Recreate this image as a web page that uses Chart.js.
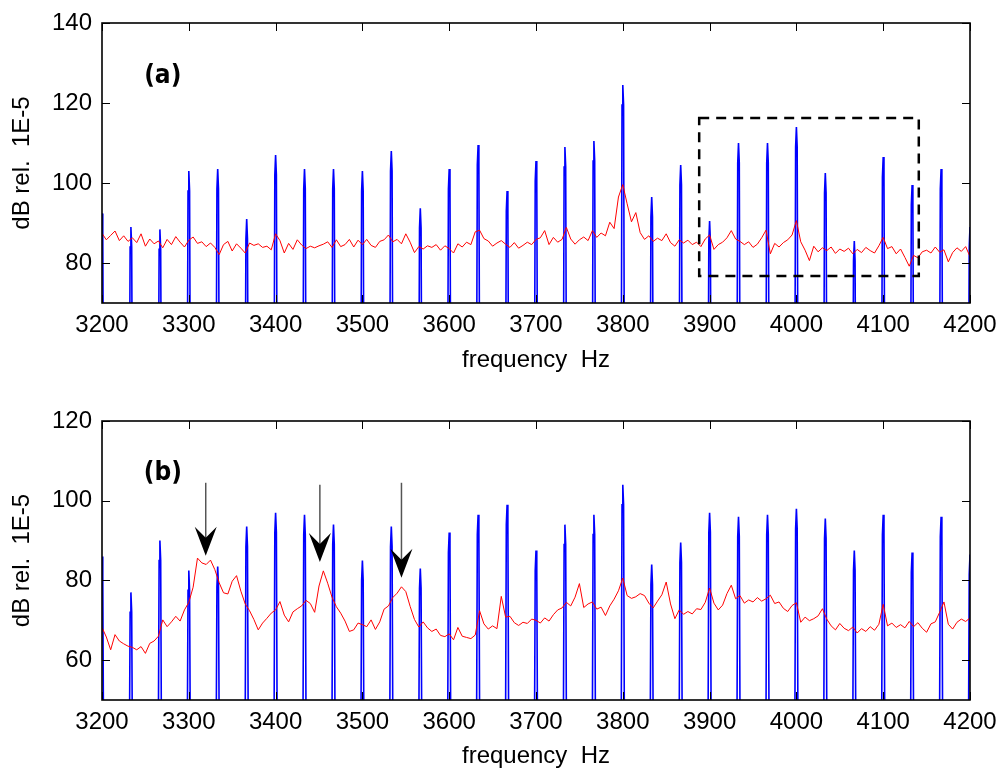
<!DOCTYPE html>
<html>
<head>
<meta charset="utf-8">
<script src="https://cdn.jsdelivr.net/npm/chart.js@4.4.1/dist/chart.umd.min.js"></script>
<style>
  html, body { margin:0; padding:0; background:#fff; }
  #wrap { position:relative; width:999px; height:771px; }
  .pane { position:absolute; left:0; }
</style>
</head>
<body>
<div id="wrap">
  <div class="pane" style="top:0"><canvas id="chart-a" width="999" height="390"></canvas></div>
  <div class="pane" style="top:390px"><canvas id="chart-b" width="999" height="381"></canvas></div>
</div>
<script>
// ── DATOS ──
var freqStart = 3200;
var freqStep = 5; // resolución de la traza roja (Hz)
var xTicks = [3200, 3300, 3400, 3500, 3600, 3700, 3800, 3900, 4000, 4100, 4200];
var yTicksA = [80, 100, 120, 140];
var yTicksB = [60, 80, 100, 120];

// traza roja (a), cada 5 Hz desde 3200
var redA = [
  87.4, 85.8, 86.9, 88.0, 85.6, 86.8, 85.4, 86.3, 85.1, 87.3,
  84.2, 86.0, 84.8, 85.5, 83.8, 85.9, 84.6, 86.6, 85.2, 84.0,
  85.7, 86.5, 84.9, 85.3, 84.1, 85.0, 83.9, 82.1, 84.6, 85.4,
  83.0, 84.8, 83.7, 82.5, 85.0, 84.4, 84.8, 83.9, 84.2, 83.3,
  87.3, 85.6, 82.5, 84.9, 83.4, 85.8, 84.5, 83.6, 84.2, 83.8,
  84.3, 84.7, 85.3, 83.9, 85.8, 84.1, 84.6, 85.9, 84.0, 85.7,
  84.6, 85.9, 84.4, 83.9, 85.4, 85.8, 87.0, 85.3, 85.9, 84.8,
  87.3, 85.2, 82.6, 84.1, 83.5, 84.3, 83.9, 84.6, 83.2, 84.3,
  83.6, 82.5, 84.8, 84.0, 85.2, 84.6, 87.8, 88.2, 86.1, 85.5,
  84.2, 85.0, 85.6, 84.7, 83.9, 85.1, 83.7, 84.4, 85.2, 84.6,
  85.9, 86.3, 88.1, 84.6, 86.4, 85.2, 85.9, 88.9, 86.0, 84.7,
  85.8, 86.5, 85.6, 88.1, 86.4, 87.5, 86.8, 90.2, 88.6, 96.5,
  99.6, 94.8, 90.3, 92.6, 87.6, 85.9, 86.8, 85.4, 86.2, 85.6,
  87.3, 85.1, 84.2, 85.8, 85.0, 85.7, 84.6, 85.2, 84.1, 86.0,
  87.0, 83.4, 84.6, 85.2, 86.3, 88.1, 86.0, 85.4, 84.6, 85.3,
  83.9, 84.7, 86.3, 88.2, 82.3, 84.9, 84.0, 85.1, 85.8, 87.0,
  90.6, 85.3, 83.2, 80.6, 84.2, 82.8, 83.8, 83.1, 84.0, 82.4,
  83.5, 82.9, 83.7, 82.3, 83.4, 82.6, 83.9, 83.1, 82.5, 84.3,
  86.4, 83.6, 84.1, 82.3, 83.5, 81.4, 79.2, 81.9, 81.3, 82.8,
  83.2, 82.5, 84.0, 82.7, 83.3, 80.3, 82.6, 83.8, 82.9, 84.1,
  81.6
];

// traza roja (b)
var redB = [
  68.2, 65.8, 62.6, 66.4, 64.8, 64.1, 63.5, 63.2, 62.6, 63.4,
  61.7, 64.2, 64.8, 66.0, 70.1, 68.4, 69.6, 71.0, 69.8, 72.6,
  74.5, 78.3, 85.6, 84.4, 84.0, 85.1, 82.7, 79.4, 76.9, 76.6,
  79.8, 81.2, 77.3, 74.1, 72.4, 70.2, 67.6, 69.3, 70.5, 71.8,
  72.6, 74.7, 71.3, 69.6, 72.1, 72.9, 73.6, 75.0, 74.2, 72.0,
  78.6, 82.4, 79.3, 75.8, 73.4, 71.8, 69.8, 67.2, 67.6, 69.3,
  68.9, 68.4, 70.1, 67.7, 69.6, 72.8, 73.6, 75.7, 76.8, 78.4,
  77.2, 73.5, 70.2, 68.3, 69.6, 68.1, 67.2, 67.8, 66.2, 65.9,
  66.6, 65.1, 68.2, 66.0, 65.7, 65.4, 66.3, 72.4, 69.1, 67.8,
  68.6, 67.9, 76.0, 70.8, 71.0, 69.4, 68.7, 69.5, 69.2, 70.3,
  70.0, 69.3, 70.6, 69.8, 71.4, 72.6, 73.1, 74.5, 73.6, 75.8,
  79.2, 73.2, 74.1, 74.6, 72.8, 73.3, 71.2, 73.6, 75.3, 77.4,
  80.6, 76.2, 75.5, 75.9, 76.7, 76.2, 74.3, 73.1, 74.8, 76.4,
  79.6, 74.1, 70.4, 72.6, 71.5, 72.2, 71.6, 72.9, 72.7, 74.5,
  78.1, 74.3, 72.6, 73.8, 76.7, 78.8, 75.4, 76.2, 74.3, 75.1,
  74.6, 75.7, 74.8, 75.4, 76.3, 74.2, 74.6, 73.0, 72.2, 73.7,
  74.4, 69.5, 70.8, 69.9, 70.4, 71.1, 72.9, 70.3, 68.6, 67.6,
  69.2, 68.0, 67.4, 68.3, 66.8, 67.9, 67.2, 68.4, 67.5, 69.0,
  74.0, 68.6, 69.3, 68.2, 68.9, 68.1, 69.7, 68.4, 69.4, 68.0,
  67.0, 69.1, 69.6, 72.0, 74.6, 69.0, 67.8, 69.5, 70.3, 69.7,
  70.6
];

// armónicos (picos azules)
var harmonics = [3200, 3233.3, 3266.7, 3300, 3333.3, 3366.7, 3400, 3433.3, 3466.7, 3500,
  3533.3, 3566.7, 3600, 3633.3, 3666.7, 3700, 3733.3, 3766.7, 3800, 3833.3,
  3866.7, 3900, 3933.3, 3966.7, 4000, 4033.3, 4066.7, 4100, 4133.3, 4166.7, 4200];
var peaksA = [92.4, 89, 88.4, 103, 103.5, 91, 107, 103.5, 103.5, 103,
  108, 93.7, 103.5, 109.5, 98, 105.5, 109, 110.5, 124.5, 96.5,
  104.5, 90.5, 110, 110, 114, 102.5, 85.5, 106.5, 99.5, 103.5, 89];
var peaksB = [86, 77, 90, 82.5, 83.5, 93.5, 97, 96.5, 94, 85,
  93.5, 83, 92, 96.5, 99, 87.5, 94, 96.5, 104, 84,
  89.5, 97, 96, 96.5, 98, 95.5, 87.5, 96.5, 87, 96, 86.5];
var spikeFloor = 20; // entre armónicos el espectro cae muy por debajo del eje

// anotaciones (coordenadas de datos)
var boxA = { f0: 3888, f1: 4141, v0: 76.75, v1: 116.25 };
var arrowFreq = [3319.5, 3451, 3545];
var arrowTop = [104.5, 104, 104.5];
var arrowTip = [86.2, 84.6, 80.7];

// ── HELPERS ──
var FONT = '"Liberation Sans", Arial, sans-serif';

function redPoints(vals) {
    return vals.map(function(v, i) { return { x: freqStart + i * freqStep, y: v }; });
}

function spikePoints(peaks) {
    var pts = [];
    harmonics.forEach(function(h, i) {
        var p = peaks[i];
        pts.push({ x: h - 2.2, y: spikeFloor });
        pts.push({ x: h - 0.9, y: p - 5 });
        pts.push({ x: h, y: p });
        pts.push({ x: h + 0.9, y: p - 5 });
        pts.push({ x: h + 2.2, y: spikeFloor });
    });
    return pts;
}

// marco tipo MATLAB con ticks hacia dentro
var framePlugin = {
    id: 'frame',
    afterDraw: function(chart) {
        var ctx = chart.ctx, a = chart.chartArea;
        var xs = chart.scales.x, ys = chart.scales.y;
        var tl = 8;
        ctx.save();
        ctx.strokeStyle = '#000';
        ctx.lineWidth = 1;
        ctx.beginPath();
        xs.ticks.forEach(function(t) {
            var px = Math.round(xs.getPixelForValue(t.value)) + 0.5;
            ctx.moveTo(px, a.bottom); ctx.lineTo(px, a.bottom - tl);
            ctx.moveTo(px, a.top); ctx.lineTo(px, a.top + tl);
        });
        ys.ticks.forEach(function(t) {
            var py = Math.round(ys.getPixelForValue(t.value)) + 0.5;
            ctx.moveTo(a.left, py); ctx.lineTo(a.left + tl, py);
            ctx.moveTo(a.right, py); ctx.lineTo(a.right - tl, py);
        });
        ctx.stroke();
        ctx.lineWidth = 1.6;
        ctx.strokeRect(a.left, a.top, a.right - a.left, a.bottom - a.top);

        var extra = chart.options.plugins.frame || {};
        // etiqueta (a)/(b)
        if (extra.label) {
            ctx.fillStyle = '#000';
            ctx.font = 'bold 26px "Liberation Sans Narrow", "DejaVu Sans Condensed", sans-serif';
            ctx.textAlign = 'center';
            ctx.textBaseline = 'middle';
            ctx.fillText(extra.label.text, xs.getPixelForValue(extra.label.f), ys.getPixelForValue(extra.label.v));
        }
        // recuadro punteado
        if (extra.box) {
            var b = extra.box;
            ctx.setLineDash([10, 7]);
            ctx.lineWidth = 2.5;
            ctx.strokeStyle = '#000';
            ctx.strokeRect(xs.getPixelForValue(b.f0), ys.getPixelForValue(b.v1),
                xs.getPixelForValue(b.f1) - xs.getPixelForValue(b.f0),
                ys.getPixelForValue(b.v0) - ys.getPixelForValue(b.v1));
            ctx.setLineDash([]);
        }
        // flechas
        if (extra.arrows) {
            arrowFreq.forEach(function(f, i) {
                var x = xs.getPixelForValue(f);
                var yTop = ys.getPixelForValue(arrowTop[i]);
                var yTip = ys.getPixelForValue(arrowTip[i]);
                ctx.strokeStyle = '#555';
                ctx.lineWidth = 1.5;
                ctx.beginPath();
                ctx.moveTo(x, yTop); ctx.lineTo(x, yTip - 10);
                ctx.stroke();
                ctx.fillStyle = '#000';
                ctx.beginPath();
                ctx.moveTo(x, yTip);
                ctx.lineTo(x - 11, yTip - 29);
                ctx.lineTo(x, yTip - 18);
                ctx.lineTo(x + 11, yTip - 29);
                ctx.closePath();
                ctx.fill();
            });
        }
        ctx.restore();
    }
};

function makeChart(id, reds, peaks, yMin, yMax, yTicks, padTop, xAxisH, titlePad, extra) {
    return new Chart(document.getElementById(id), {
        type: 'line',
        data: {
            datasets: [
                { data: redPoints(reds), borderColor: '#ff0000', borderWidth: 1, pointRadius: 0, tension: 0 },
                { data: spikePoints(peaks), borderColor: '#0000ff', borderWidth: 1.6, pointRadius: 0, tension: 0 }
            ]
        },
        options: {
            responsive: false, animation: false, devicePixelRatio: 1,
            layout: { padding: { left: 0, right: 29, top: padTop, bottom: 0 } },
            plugins: { legend: { display: false }, tooltip: { enabled: false }, frame: extra },
            scales: {
                x: {
                    type: 'linear', min: 3200, max: 4200,
                    afterBuildTicks: function(s) { s.ticks = xTicks.map(function(v) { return { value: v }; }); },
                    afterFit: function(s) { s.height = xAxisH; s.paddingLeft = 0; s.paddingRight = 0; },
                    grid: { display: false, drawTicks: false }, border: { display: false },
                    ticks: { color: '#000', padding: 8, maxRotation: 0, autoSkip: false,
                        font: { family: FONT, size: 24 }, callback: function(v) { return String(v); } },
                    title: { display: true, text: 'frequency  Hz', color: '#000',
                        font: { family: FONT, size: 24 }, padding: { top: 0, bottom: titlePad } }
                },
                y: {
                    min: yMin, max: yMax,
                    afterBuildTicks: function(s) { s.ticks = yTicks.map(function(v) { return { value: v }; }); },
                    afterFit: function(s) { s.width = 102; s.paddingTop = 0; s.paddingBottom = 0; },
                    grid: { display: false, drawTicks: false }, border: { display: false },
                    ticks: { color: '#000', padding: 10, font: { family: FONT, size: 24 },
                        callback: function(v) { return String(v); } },
                    title: { display: true, text: 'dB rel.  1E-5', color: '#000',
                        font: { family: FONT, size: 24 }, padding: { top: 7.6, bottom: 0 } }
                }
            }
        },
        plugins: [framePlugin]
    });
}

makeChart('chart-a', redA, peaksA, 70, 140, yTicksA, 23, 87, 15.6,
    { label: { text: '(a)', f: 3270, v: 126.75 }, box: boxA });
makeChart('chart-b', redB, peaksB, 50, 120, yTicksB, 31, 71, 0,
    { label: { text: '(b)', f: 3270, v: 107 }, arrows: true });
</script>
</body>
</html>
